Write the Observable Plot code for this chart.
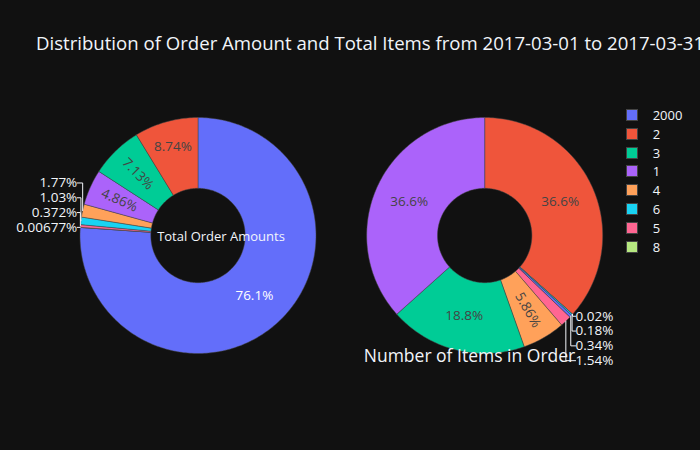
<!DOCTYPE html>
<html><head><meta charset="utf-8">
<script src="https://cdn.jsdelivr.net/npm/d3@7"></script>
<script src="https://cdn.jsdelivr.net/npm/@observablehq/plot@0.6"></script>
<style>
html,body{margin:0;padding:0;background:#111111;overflow:hidden;}
#wrap{position:relative;width:700px;height:450px;overflow:hidden;background:#111111;font-family:"Open Sans",sans-serif;}
#chart{position:absolute;left:0;top:0;}
#title{position:absolute;left:36px;top:33px;font-size:18.6px;line-height:20px;color:#f2f5fa;white-space:nowrap;}
#legend{position:absolute;left:626px;top:0;}
.item{position:absolute;left:0;height:19px;display:flex;align-items:center;white-space:nowrap;font-size:13px;color:#f2f5fa;}
.sw{width:12px;height:12px;box-sizing:border-box;border:0.5px solid #444;margin-right:14.7px;flex:none;}
</style></head>
<body><div id="wrap"><div id="chart"></div><div id="title"></div><div id="legend"></div></div>
<script>
// ---- data ----
const categories = ["2000", "2", "3", "1", "4", "6", "5", "8"];
const legendColors = ["#636efa", "#EF553B", "#00cc96", "#ab63fa", "#FFA15A", "#19d3f3", "#FF6692", "#B6E880"];
const amountShare = [76.1, 8.74, 7.13, 4.86, 1.77, 1.03, 0.372, 0.00677];
const itemsShare = [0.34, 36.6, 18.8, 36.6, 5.86, 0.18, 1.54, 0.02];
const titleText = "Distribution of Order Amount and Total Items from 2017-03-01 to 2017-03-31";
const leftTitle = "Total Order Amounts";
const rightTitle = "Number of Items in Order";

// ---- layout ----
const W = 700, H = 450;
const R = 118;                    // pie radius in px = 1 data unit
const cxPx = [197.5, 484.2], cyPx = 235;
const centers = [0, (cxPx[1] - cxPx[0]) / R];
const hole = 0.4;
const fmt = d3.format(".3~r");
const colorOf = c => legendColors[categories.indexOf(c)];
const isDark = col => { const c = d3.rgb(col); return (c.r * 299 + c.g * 587 + c.b * 114) / 1000 < 128; };

const slicePts = [], insideLabels = [], outsideLabels = [], leaders = [];

function buildPie(shares, p) {
  const cx = centers[p];
  const total = d3.sum(shares);
  const items = categories.map((c, i) => ({cat: c, value: shares[i], order: i}));
  const sorted = items.slice().sort((a, b) => b.value - a.value || a.order - b.order);
  const arranged = [sorted[0], ...sorted.slice(1).reverse()];
  const arcs = d3.pie().sort(null).value(d => d.value)(arranged);
  const outs = [];
  arcs.forEach((a) => {
    const key = p + "-" + a.data.cat;
    const a0 = a.startAngle, a1 = a.endAngle;
    const n = Math.max(2, Math.ceil((a1 - a0) / (Math.PI / 180)));
    const pts = [];
    for (let j = 0; j <= n; j++) { const t = a0 + (a1 - a0) * j / n; pts.push([cx + Math.sin(t), Math.cos(t)]); }
    for (let j = n; j >= 0; j--) { const t = a0 + (a1 - a0) * j / n; pts.push([cx + hole * Math.sin(t), hole * Math.cos(t)]); }
    pts.push(pts[0]);
    pts.forEach(([x, y]) => slicePts.push({key, cat: a.data.cat, x, y}));
    const frac = a.data.value / total;
    const text = fmt(frac * 100) + "%";
    const mid = (a0 + a1) / 2;
    if (frac >= 0.025) {
      const radial = frac < 0.08;
      const rr = radial ? 0.73 : (frac < 0.12 ? 0.78 : 0.7);
      let rot = 0;
      if (radial) {
        rot = Math.atan2(-Math.cos(mid), Math.sin(mid)) * 180 / Math.PI;
        if (rot > 90) rot -= 180; if (rot <= -90) rot += 180;
      }
      insideLabels.push({x: cx + rr * Math.sin(mid), y: rr * Math.cos(mid), text, rotate: rot,
        light: isDark(colorOf(a.data.cat))});
    } else {
      outs.push({ax: cx + Math.sin(mid), ay: Math.cos(mid), text, key, left: Math.sin(mid) < 0, upper: Math.cos(mid) > 0});
    }
  });
  const sp = 14.8 / R;
  for (const left of [true, false]) for (const upper of [true, false]) {
    const g = outs.filter(o => o.left === left && o.upper === upper);
    if (!g.length) continue;
    g.sort((a, b) => upper ? a.ay - b.ay : b.ay - a.ay);
    let prev = null;
    g.forEach(o => {
      let y = upper ? o.ay : o.ay - 2 / R;
      if (prev !== null) y = upper ? Math.max(y, prev + sp) : Math.min(y, prev - sp);
      o.ly = y; prev = y;
    });
    const lx = left ? d3.min(g, o => o.ax) - 3 / R : d3.max(g, o => o.ax) + 3 / R;
    g.forEach(o => {
      outsideLabels.push({x: lx, y: o.ly, text: o.text, left});
      leaders.push({key: o.key, x: o.ax, y: o.ay}, {key: o.key, x: o.ax, y: o.ly}, {key: o.key, x: lx, y: o.ly});
    });
  }
}
buildPie(amountShare, 0);
buildPie(itemsShare, 1);

const notes = [
  {x: (220.5 - cxPx[0]) / R, y: (cyPx - 236) / R, text: leftTitle},
  {x: (469 - cxPx[0]) / R, y: (cyPx - 356) / R, text: rightTitle}
];

const font = "Open Sans";
const chart = Plot.plot({
  width: W, height: H, margin: 0,
  style: {background: "#111111", fontFamily: font, overflow: "visible"},
  x: {domain: [-cxPx[0] / R, (W - cxPx[0]) / R], axis: null},
  y: {domain: [(cyPx - H) / R, cyPx / R], axis: null},
  color: {domain: categories, range: legendColors},
  marks: [
    Plot.line(slicePts, {x: "x", y: "y", z: "key", fill: "cat", stroke: "#444", strokeWidth: 0.5, curve: "linear"}),
    Plot.text(insideLabels.filter(d => !d.light), {x: "x", y: "y", text: "text", rotate: "rotate", fill: "#444", fontSize: 13.5, fontFamily: font}),
    Plot.text(insideLabels.filter(d => d.light), {x: "x", y: "y", text: "text", rotate: "rotate", fill: "#ffffff", fontSize: 13.5, fontFamily: font}),
    Plot.line(leaders, {x: "x", y: "y", z: "key", stroke: "#f2f5fa", strokeWidth: 1}),
    Plot.text(outsideLabels.filter(d => d.left), {x: "x", y: "y", text: "text", textAnchor: "end", fill: "#f2f5fa", fontSize: 13.5, fontFamily: font}),
    Plot.text(outsideLabels.filter(d => !d.left), {x: "x", y: "y", text: "text", textAnchor: "start", fill: "#f2f5fa", fontSize: 13.5, fontFamily: font}),
    Plot.text(notes.slice(0, 1), {x: "x", y: "y", text: "text", fill: "#f2f5fa", fontSize: 13, fontFamily: font}),
    Plot.text(notes.slice(1), {x: "x", y: "y", text: "text", fill: "#f2f5fa", fontSize: 17.5, fontFamily: font})
  ]
});
document.getElementById("chart").appendChild(chart);
document.getElementById("title").textContent = titleText;

const legend = document.getElementById("legend");
categories.forEach((c, i) => {
  const it = document.createElement("div");
  it.className = "item";
  it.style.top = (114.7 + i * 18.9 - 9.5) + "px";
  const sw = document.createElement("span");
  sw.className = "sw"; sw.style.background = legendColors[i];
  const tx = document.createElement("span"); tx.textContent = c;
  it.appendChild(sw); it.appendChild(tx);
  legend.appendChild(it);
});
</script>
</body></html>
